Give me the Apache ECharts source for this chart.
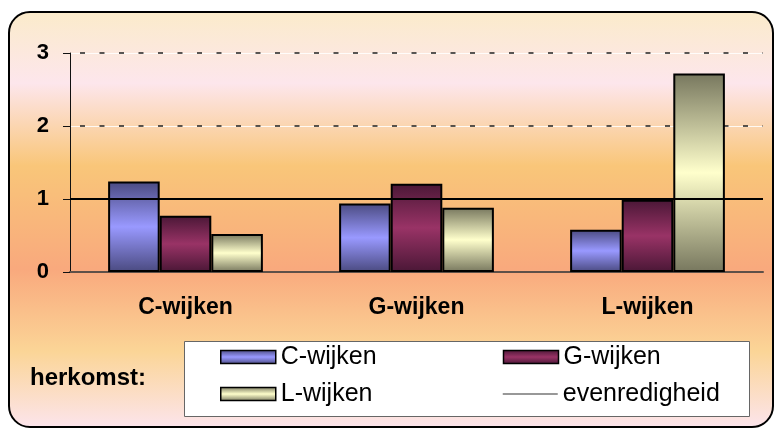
<!DOCTYPE html>
<html>
<head>
<meta charset="utf-8">
<script src="https://cdn.jsdelivr.net/npm/echarts@6/dist/echarts.min.js"></script>
<style>
	html, body { margin: 0; padding: 0; background: #fff; }
	#frame {
		position: absolute; left: 8px; top: 11px; width: 762px; height: 413px;
		border: 2px solid #000; border-radius: 22px;
		background: linear-gradient(to bottom, #fbebcb 0%, #fde6ec 17%, #f9c679 37%, #f9a97d 62%, #fbd597 82%, #fce4ea 100%);
	}
	#chart { position: absolute; left: 0; top: 0; width: 774px; height: 428px; }
</style>
</head>
<body>
<div id="frame"></div>
<div id="chart"></div>
<script>
	// data
	var categories = ['C-wijken', 'G-wijken', 'L-wijken'];
	var cWijken = [1.24, 0.94, 0.58];
	var gWijken = [0.77, 1.21, 0.99];
	var lWijken = [0.52, 0.88, 2.72];
	var evenredigheid = 1;
	var yMin = 0, yMax = 3, yStep = 1;

	var font = '"Liberation Sans", Arial, sans-serif';

	function grad(dark, light) {
		return new echarts.graphic.LinearGradient(0, 0, 0, 1, [
			{ offset: 0, color: dark },
			{ offset: 0.5, color: light },
			{ offset: 1, color: dark }
		]);
	}

	function barSeries(name, data, dark, light) {
		return {
			name: name,
			type: 'bar',
			data: data,
			barGap: '0%',
			barCategoryGap: '33%',
			itemStyle: { color: grad(dark, light), borderColor: '#000', borderWidth: 2, borderJoin: 'miter' }
		};
	}

	var myChart = echarts.init(document.getElementById('chart'), null, { renderer: 'canvas' });
	var legendText = { fontFamily: font, fontSize: 25, color: '#000', width: 190, lineHeight: 26 };

	myChart.setOption({
		animation: false,
		grid: { left: 70, right: 11, top: 53, bottom: 156 },
		legend: [{
			left: 220, top: 344, padding: 0, itemGap: 32,
			itemWidth: 55, itemHeight: 13, icon: 'rect',
			itemStyle: { borderWidth: 1.5, borderColor: '#000' },
			textStyle: legendText,
			data: ['C-wijken', 'G-wijken']
		}, {
			left: 220, top: 381, padding: 0, itemGap: 32,
			itemWidth: 55, itemHeight: 13,
			textStyle: legendText,
			data: [
				{ name: 'L-wijken', icon: 'rect', itemStyle: { borderWidth: 1.5, borderColor: '#000' } },
				{ name: 'evenredigheid', icon: 'path://M0,0 L55,0 L55,1 L0,1 Z', itemStyle: { color: '#333', borderWidth: 0 } }
			]
		}],
		graphic: [{
			type: 'rect', z: 1,
			shape: { x: 184.5, y: 341.5, width: 565, height: 75 },
			style: { fill: '#fff', stroke: '#666', lineWidth: 1 }
		}, {
			type: 'text', z: 5, left: 30, top: 366,
			style: { text: 'herkomst:', font: 'bold 24px ' + font, fill: '#000' }
		}],
		xAxis: [{
			type: 'category',
			data: categories,
			axisLine: { lineStyle: { color: '#5e5048', width: 2 } },
			axisTick: { length: 8, interval: 0, lineStyle: { color: '#333' } },
			axisLabel: { margin: 24, fontFamily: font, fontSize: 23, fontWeight: 'bold', color: '#000' }
		}, {
			type: 'value', min: 0, max: 1, show: false
		}],
		yAxis: [{
			type: 'value', min: yMin, max: yMax, interval: yStep,
			axisLine: { show: false }, axisTick: { show: false }, axisLabel: { show: false },
			splitLine: { lineStyle: { color: 'rgba(255,255,255,0.85)', width: 1 } }
		}, {
			type: 'value', min: yMin, max: yMax, interval: yStep, position: 'left',
			axisLine: { show: true, onZero: false, lineStyle: { color: '#111', width: 1 } },
			axisTick: { show: true, length: 7, lineStyle: { color: '#111' } },
			axisLabel: { margin: 21, fontFamily: font, fontSize: 22, fontWeight: 'bold', color: '#000' },
			splitLine: { show: true, lineStyle: { color: '#222', width: 1.5, type: [5, 14.5], dashOffset: 9.5 } }
		}],
		series: [
			barSeries('C-wijken', cWijken, '#4a4a80', '#9999ff'),
			barSeries('G-wijken', gWijken, '#4a1736', '#993366'),
			barSeries('L-wijken', lWijken, '#77775e', '#ffffcc'),
			{
				name: 'evenredigheid',
				type: 'line',
				xAxisIndex: 1,
				symbol: 'none',
				z: 5,
				color: '#000',
				lineStyle: { color: '#000', width: 2 },
				data: [[0, evenredigheid], [1, evenredigheid]]
			}
		]
	});
</script>
</body>
</html>
